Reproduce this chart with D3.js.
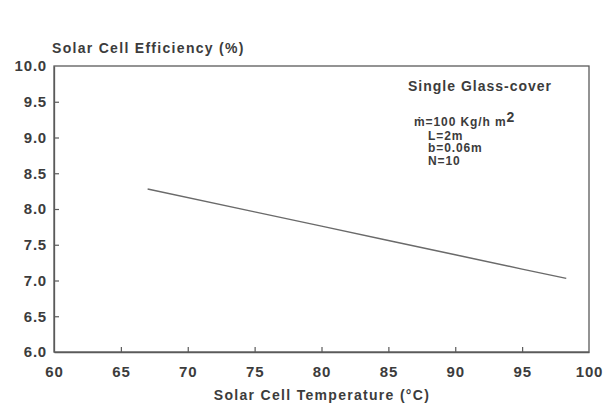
<!DOCTYPE html>
<html>
<head>
<meta charset="utf-8">
<script src="https://cdn.jsdelivr.net/npm/d3@7"></script>
<style>
  html, body { margin: 0; padding: 0; background: #fff; }
  svg { display: block; }
  text { font-family: "Liberation Sans", Arial, sans-serif; font-weight: bold; fill: #3c3c3c; }
</style>
</head>
<body>
<svg id="chart" width="605" height="412"></svg>
<script>
// Cell temperature (°C) and the matching efficiency (%)
const temperature = [67, 75, 80, 85, 90, 95, 98.3];
const efficiency  = [8.28, 7.96, 7.76, 7.56, 7.36, 7.16, 7.03];

const xTicks = [60, 65, 70, 75, 80, 85, 90, 95, 100];
const yTicks = [6.0, 6.5, 7.0, 7.5, 8.0, 8.5, 9.0, 9.5, 10.0];

const yTitle = "Solar Cell Efficiency (%)";
const xTitle = "Solar Cell Temperature (\u00B0C)";
const noteTitle = "Single Glass-cover";
const noteLines = ["L=2m", "b=0.06m", "N=10"];

const svg = d3.select("#chart");
const ink = "#5a5a5a";

const margin = { left: 54, right: 16, top: 66, bottom: 60 };
const W = 605, H = 412;

const x = d3.scaleLinear().domain([60, 100]).range([margin.left, W - margin.right]);
const y = d3.scaleLinear().domain([6, 10]).range([H - margin.bottom, margin.top]);

// Frame around the plot area
svg.append("rect")
  .attr("x", x(60)).attr("y", y(10))
  .attr("width", x(100) - x(60)).attr("height", y(6) - y(10))
  .attr("fill", "none").attr("stroke", ink).attr("stroke-width", 1.3);

// Axes with inward ticks
const xAxis = svg.append("g")
  .attr("transform", `translate(0,${y(6)})`)
  .call(d3.axisBottom(x).tickValues(xTicks).tickFormat(d3.format("d"))
    .tickSizeInner(-5).tickSizeOuter(0).tickPadding(14));
const yAxis = svg.append("g")
  .attr("transform", `translate(${x(60)},0)`)
  .call(d3.axisLeft(y).tickValues(yTicks).tickFormat(d3.format(".1f"))
    .tickSizeInner(-5).tickSizeOuter(0).tickPadding(7));

[xAxis, yAxis].forEach(g => {
  g.select(".domain").attr("stroke", ink).attr("stroke-width", 1.3);
  g.selectAll(".tick line").attr("stroke", ink).attr("stroke-width", 1.2);
  g.selectAll(".tick text")
    .style("font-family", '"Liberation Sans", Arial, sans-serif')
    .style("font-weight", "bold")
    .style("font-size", "15px")
    .style("letter-spacing", "0.8px")
    .attr("fill", "#3c3c3c");
});
xAxis.selectAll(".tick").filter(d => d === 60 || d === 100).select("line").remove();
yAxis.selectAll(".tick").filter(d => d === 6 || d === 10).select("line").remove();

// Efficiency curve
const line = d3.line().x((d, i) => x(temperature[i])).y(d => y(d));
svg.append("path")
  .datum(efficiency)
  .attr("d", line)
  .attr("fill", "none")
  .attr("stroke", "#6a6a6a")
  .attr("stroke-width", 1.4);

// Axis titles
svg.append("text")
  .attr("x", 52).attr("y", 53)
  .style("font-size", "14px").style("letter-spacing", "1.3px")
  .text(yTitle);
svg.append("text")
  .attr("x", 322).attr("y", 400)
  .attr("text-anchor", "middle")
  .style("font-size", "14px").style("letter-spacing", "1.3px")
  .text(xTitle);

// Parameter note
svg.append("text")
  .attr("x", 408).attr("y", 91)
  .style("font-size", "14px").style("letter-spacing", "1px")
  .text(noteTitle);

const flow = svg.append("text")
  .attr("x", 414).attr("y", 126)
  .style("font-size", "12px").style("letter-spacing", "0.9px");
flow.append("tspan").text("\u1E41=100 Kg/h m");
flow.append("tspan").attr("dy", -4).style("font-size", "14px").text("2");

noteLines.forEach((t, i) => {
  svg.append("text")
    .attr("x", 428).attr("y", 139.5 + i * 12.5)
    .style("font-size", "12px").style("letter-spacing", "0.9px")
    .text(t);
});
</script>
</body>
</html>
